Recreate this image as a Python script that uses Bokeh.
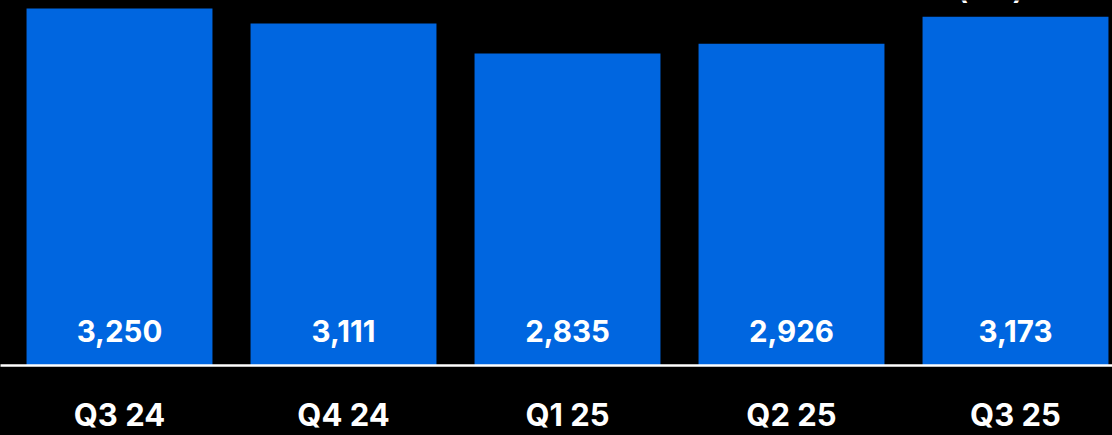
from bokeh.plotting import figure
from bokeh.models import Range1d, FixedTicker, ColumnDataSource, GlobalInlineStyleSheet
from bokeh.core.properties import value
from bokeh.embed import file_html
from bokeh.resources import INLINE

# ---- data ----
quarters = ["Q3 24", "Q4 24", "Q1 25", "Q2 25", "Q3 25"]
values = [3250, 3111, 2835, 2926, 3173]
value_labels = ["3,250", "3,111", "2,835", "2,926", "3,173"]
unit_label = "(€m)"

# ---- layout constants ----
BAR_COLOR = "#0066E0"
Y_MIN = -42.5        # bars start slightly below zero in the original
Y_MAX = 3324
LABEL_Y = 280        # data-y of value label baseline
UNIT_Y = 3434
FONT = "Inter"

x = list(range(len(quarters)))
src = ColumnDataSource(dict(x=x, top=values, label=value_labels))

p = figure(
    frame_width=1112, frame_height=365,
    output_backend="svg", toolbar_location=None,
    x_range=Range1d(-0.53125, 4.433), y_range=Range1d(Y_MIN, Y_MAX),
    y_axis_location=None,
    background_fill_color="black", border_fill_color="black",
    min_border_left=0, min_border_right=0, min_border_top=0, min_border_bottom=0,
)
p.outline_line_color = None
p.grid.visible = False

p.vbar(x="x", top="top", bottom=Y_MIN, width=0.830, fill_color=BAR_COLOR,
       line_color=None, source=src)

p.text(x="x", y=LABEL_Y, text="label", source=src,
       text_align="center", text_baseline="alphabetic",
       text_font=value(FONT), text_font_style="bold",
       text_font_size="29.5px", text_color="white")

# unit label, almost entirely cut off at the top in the original
p.text(x=[3.888], y=[UNIT_Y], text=[unit_label],
       text_align="center", text_baseline="alphabetic",
       text_font=value(FONT), text_font_style="bold",
       text_font_size="28px", text_color="white")

ax = p.xaxis[0]
ax.ticker = FixedTicker(ticks=x)
ax.major_label_overrides = {i: q for i, q in zip(x, quarters)}
ax.axis_line_color = "white"
ax.axis_line_width = 2.5
ax.major_tick_line_color = None
ax.minor_tick_line_color = None
ax.major_tick_out = 0
ax.major_tick_in = 0
ax.major_label_standoff = 30
ax.major_label_text_font = FONT
ax.major_label_text_font_style = "bold"
ax.major_label_text_font_size = "31px"
ax.major_label_text_color = "white"

p.stylesheets = [GlobalInlineStyleSheet(css="html, body { background: #000; overflow: hidden; }")]

open("out.html", "w").write(file_html(p, INLINE))
